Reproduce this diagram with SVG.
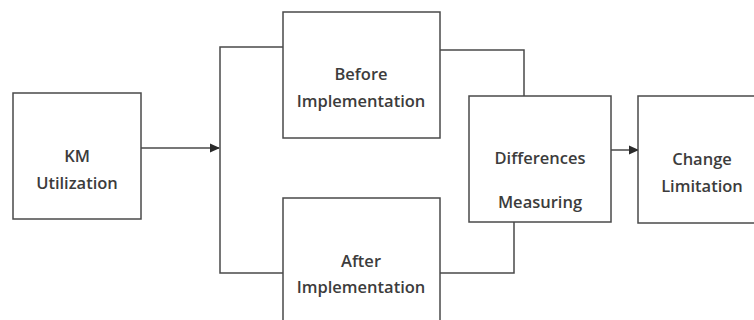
<svg xmlns="http://www.w3.org/2000/svg" width="754" height="320" viewBox="0 0 754 320">
<defs>
<style>
.box{fill:#fff;stroke:#4a4a4a;stroke-width:1.5}
.ln{fill:none;stroke:#4a4a4a;stroke-width:1.5}
.t{font-family:"Open Sans","DejaVu Sans",sans-serif;font-weight:600;font-size:16.5px;fill:#3c3c3c;text-anchor:middle}
</style>
<marker id="arr" markerWidth="10" markerHeight="10" refX="9" refY="5" orient="auto" markerUnits="userSpaceOnUse">
<path d="M0,0.5 L10,5 L0,9.5 Z" fill="#2a2a2a"/>
</marker>
</defs>
<rect width="754" height="320" fill="#fff"/>
<g id="connectors">
<path class="ln" d="M141,148 H219" marker-end="url(#arr)"/>
<path class="ln" d="M283,47 H220 V273 H283"/>
<path class="ln" d="M440,50 H524 V96"/>
<path class="ln" d="M440,273 H514 V222"/>
<path class="ln" d="M611,150 H638" marker-end="url(#arr)"/>
</g>
<g id="km">
<rect class="box" x="13" y="93" width="128" height="126"/>
<text class="t" x="77" y="162">KM</text>
<text class="t" x="77" y="189">Utilization</text>
</g>
<g id="before">
<rect class="box" x="283" y="12" width="157" height="126"/>
<text class="t" x="361" y="80">Before</text>
<text class="t" x="361" y="107">Implementation</text>
</g>
<g id="after">
<rect class="box" x="283" y="198" width="157" height="130"/>
<text class="t" x="361" y="267">After</text>
<text class="t" x="361" y="293">Implementation</text>
</g>
<g id="differences">
<rect class="box" x="469" y="96" width="142" height="126"/>
<text class="t" x="540" y="164">Differences</text>
<text class="t" x="540" y="208">Measuring</text>
</g>
<g id="change">
<rect class="box" x="638" y="96" width="130" height="127"/>
<text class="t" x="702" y="165">Change</text>
<text class="t" x="702" y="192">Limitation</text>
</g>
</svg>
